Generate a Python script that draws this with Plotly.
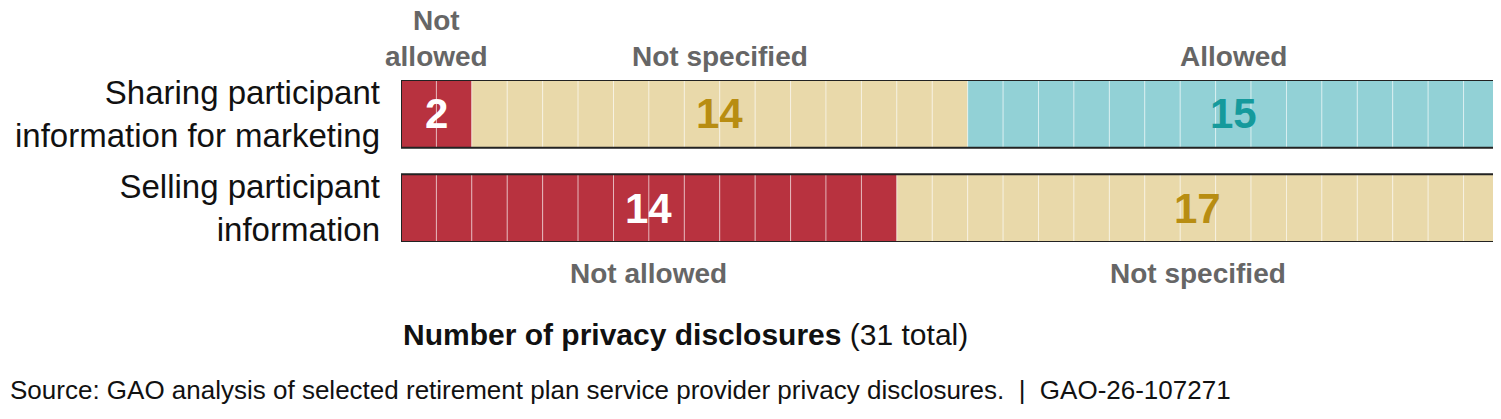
import plotly.graph_objects as go

rows = ["Sharing participant<br>information for marketing", "Selling participant<br>information"]
categories = ["Not allowed", "Not specified", "Allowed"]
sharing = [2, 14, 15]
selling = [14, 17, 0]
total = 31
colors = {"Not allowed": "#B8323F", "Not specified": "#E9D9AA", "Allowed": "#92D1D6"}
textcol = {"Not allowed": "white", "Not specified": "#B88D12", "Allowed": "#159A9C"}
ypos = [1, 0]
F = "Liberation Sans, Arial, sans-serif"

fig = go.Figure()
anns = []
for yi, vals in zip(ypos, [sharing, selling]):
    start = 0
    for cat, v in zip(categories, vals):
        if v == 0:
            continue
        fig.add_trace(go.Bar(x=[1]*v, base=list(range(start, start+v)), y=[yi]*v, orientation="h",
                             width=0.72, marker=dict(color=colors[cat], line=dict(color="rgba(255,255,255,0.45)", width=1)),
                             showlegend=False, hoverinfo="skip"))
        anns.append(dict(x=start+v/2, y=yi, text=f"<b>{v}</b>", showarrow=False, xref="x", yref="y",
                         font=dict(size=42, color=textcol[cat], family=F)))
        if yi == 1:
            lab = "Not<br>allowed" if v < 4 else cat
            anns.append(dict(x=start+v/2, y=yi+0.36, text=f"<b>{lab}</b>", showarrow=False, xref="x", yref="y",
                             yanchor="bottom", yshift=6, font=dict(size=28, color="#666666", family=F)))
        else:
            anns.append(dict(x=start+v/2, y=yi-0.36, text=f"<b>{cat}</b>", showarrow=False, xref="x", yref="y",
                             yanchor="top", yshift=-14, font=dict(size=28, color="#666666", family=F)))
        start += v
    fig.add_trace(go.Bar(x=[total], base=[0], y=[yi], orientation="h", width=0.72,
                         marker=dict(color="rgba(0,0,0,0)", line=dict(color="#222222", width=2)),
                         showlegend=False, hoverinfo="skip"))

anns.append(dict(x=0, y=-0.36, xref="x", yref="y", yshift=-74, xanchor="left", yanchor="top", showarrow=False,
                 text="<b>Number of privacy disclosures</b> (31 total)", font=dict(size=30, color="#111111", family=F)))
anns.append(dict(x=0, y=0, xref="paper", yref="paper", xshift=-393, yshift=-131, xanchor="left", yanchor="top", showarrow=False,
                 text="Source: GAO analysis of selected retirement plan service provider privacy disclosures.  |  GAO-26-107271",
                 font=dict(size=26, color="#111111", family=F)))

fig.update_layout(barmode="overlay", width=1493, height=411, margin=dict(l=393, r=2, t=72, b=177),
                  plot_bgcolor="white", paper_bgcolor="white", annotations=anns,
                  xaxis=dict(range=[0, total], visible=False),
                  yaxis=dict(range=[-0.36, 1.36], tickvals=ypos, ticktext=rows, showgrid=False, zeroline=False,
                             ticks="", ticklabelstandoff=20, tickfont=dict(size=33, color="#111111", family=F)))
fig.write_html("out.html")
